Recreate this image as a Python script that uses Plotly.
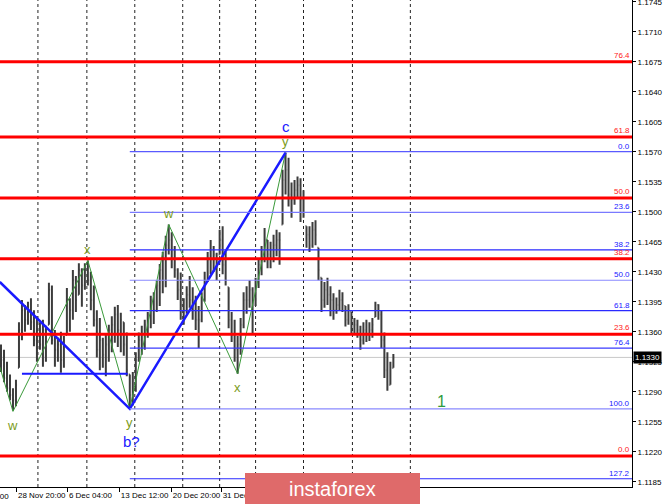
import plotly.graph_objects as go

# ---------------- data (EUR/USD H4) ----------------
high = [1.1345,1.1339,1.1325,1.1310,1.1294,1.1304,1.1371,1.1397,1.1391,1.1395,
        1.1399,1.1385,1.1378,1.1371,1.1374,1.1367,1.1417,1.1414,1.1362,1.1353,
        1.1360,1.1355,1.1411,1.1399,1.1432,1.1425,1.1440,1.1434,1.1440,1.1443,
        1.1430,1.1414,1.1385,1.1376,1.1353,1.1356,1.1368,1.1378,1.1389,1.1391,
        1.1382,1.1371,1.1359,1.1310,1.1313,1.1336,1.1359,1.1367,1.1374,1.1383,
        1.1402,1.1406,1.1420,1.1439,1.1453,1.1472,1.1485,1.1476,1.1460,1.1434,
        1.1429,1.1399,1.1413,1.1425,1.1412,1.1402,1.1390,1.1406,1.1430,1.1453,
        1.1467,1.1460,1.1452,1.1479,1.1483,1.1453,1.1412,1.1383,1.1374,1.1355,
        1.1376,1.1406,1.1413,1.1420,1.1412,1.1423,1.1446,1.1460,1.1481,1.1467,
        1.1465,1.1473,1.1479,1.1476,1.1549,1.1569,1.1563,1.1534,1.1537,1.1541,
        1.1539,1.1525,1.1483,1.1483,1.1488,1.1490,1.1458,1.1423,1.1418,1.1423,
        1.1413,1.1405,1.1400,1.1409,1.1406,1.1390,1.1392,1.1383,1.1376,1.1374,
        1.1367,1.1371,1.1374,1.1371,1.1376,1.1395,1.1392,1.1385,1.1359,1.1336,
        1.1325,1.1334]
low = [1.1313,1.1301,1.1290,1.1280,1.1268,1.1273,1.1318,1.1350,1.1360,1.1368,
       1.1362,1.1343,1.1325,1.1339,1.1319,1.1325,1.1368,1.1345,1.1319,1.1325,
       1.1312,1.1318,1.1356,1.1360,1.1374,1.1383,1.1403,1.1389,1.1409,1.1414,
       1.1385,1.1366,1.1330,1.1315,1.1318,1.1308,1.1325,1.1336,1.1347,1.1342,
       1.1336,1.1332,1.1308,1.1270,1.1274,1.1290,1.1325,1.1333,1.1339,1.1353,
       1.1364,1.1369,1.1383,1.1390,1.1405,1.1412,1.1450,1.1434,1.1423,1.1397,
       1.1374,1.1368,1.1381,1.1388,1.1374,1.1362,1.1341,1.1371,1.1395,1.1418,
       1.1427,1.1430,1.1420,1.1450,1.1427,1.1414,1.1364,1.1348,1.1325,1.1311,
       1.1333,1.1364,1.1381,1.1388,1.1356,1.1390,1.1411,1.1426,1.1441,1.1434,
       1.1434,1.1441,1.1448,1.1438,1.1485,1.1520,1.1506,1.1493,1.1508,1.1516,
       1.1488,1.1493,1.1458,1.1453,1.1458,1.1461,1.1420,1.1383,1.1388,1.1391,
       1.1378,1.1374,1.1381,1.1385,1.1383,1.1366,1.1368,1.1357,1.1357,1.1353,
       1.1339,1.1345,1.1348,1.1349,1.1353,1.1377,1.1374,1.1341,1.1306,1.1291,
       1.1298,1.1318]
close = [1.1327,1.1306,1.1294,1.1286,1.1280,1.1298,1.1362,1.1385,1.1374,1.1385,
         1.1371,1.1350,1.1362,1.1345,1.1362,1.1356,1.1409,1.1350,1.1339,1.1345,
         1.1327,1.1350,1.1397,1.1385,1.1420,1.1397,1.1432,1.1414,1.1432,1.1420,
         1.1397,1.1374,1.1339,1.1350,1.1333,1.1345,1.1362,1.1368,1.1380,1.1362,
         1.1374,1.1345,1.1315,1.1286,1.1304,1.1327,1.1350,1.1345,1.1368,1.1380,
         1.1397,1.1385,1.1414,1.1432,1.1444,1.1461,1.1467,1.1455,1.1432,1.1409,
         1.1391,1.1385,1.1403,1.1397,1.1385,1.1374,1.1374,1.1397,1.1420,1.1444,
         1.1444,1.1450,1.1444,1.1467,1.1438,1.1420,1.1374,1.1356,1.1339,1.1345,
         1.1368,1.1397,1.1397,1.1409,1.1397,1.1414,1.1438,1.1450,1.1467,1.1450,
         1.1455,1.1461,1.1467,1.1467,1.1537,1.1549,1.1520,1.1514,1.1525,1.1531,
         1.1514,1.1496,1.1473,1.1461,1.1479,1.1473,1.1432,1.1397,1.1409,1.1403,
         1.1397,1.1385,1.1391,1.1397,1.1391,1.1374,1.1385,1.1368,1.1368,1.1362,
         1.1350,1.1362,1.1356,1.1362,1.1368,1.1391,1.1380,1.1350,1.1315,1.1298,
         1.1318,1.1330]
first_open = 1.1340
current_price = 1.1330

# date tick labels (bar positions) and time grid (bar positions)
date_labels = ["28 Nov 20:00", "6 Dec 04:00", "13 Dec 12:00", "20 Dec 20:00", "31 Dec 04:00"]
date_bars = [5.33, 22.33, 39.67, 57.0, 73.67]
grid_bars = [12.33, 28.67, 44.67, 60.67, 73.0, 85.0, 101.0, 117.33, 136.67]
last_bar_slot = 210.67

# price axis ticks
price_ticks = [1.1185, 1.1220, 1.1255, 1.1290, 1.1325, 1.1360, 1.1395, 1.1430,
               1.1465, 1.1500, 1.1535, 1.1570, 1.1605, 1.1640, 1.1675, 1.1710, 1.1745]

# Fibonacci grids
red_fib_levels = [0.0, 23.6, 38.2, 50.0, 61.8, 76.4]
red_fib_zero = 1.1215
red_fib_hundred = 1.1817
blue_fib_levels = [0.0, 23.6, 38.2, 50.0, 61.8, 76.4, 100.0, 127.2]
blue_fib_zero = 1.1570
blue_fib_hundred = 1.1270
blue_fib_start_bar = 43

# wave markup
green_wave_bars = [-0.4, 4, 29, 43, 56, 79, 95]
green_wave_prices = [1.1319, 1.1267, 1.1443, 1.1270, 1.1485, 1.1311, 1.1569]
green_wave_labels = [None, "w", "x", "y", "w", "x", "y"]
blue_wave_bars = [-0.4, 43, 95]
blue_wave_prices = [1.1418, 1.1270, 1.1569]
blue_level_bars = [7, 42.3]
blue_level_price = 1.1311
wave1_bar, wave1_price = 147, 1.1278

# ---------------- figure ----------------
FONT = "Liberation Sans, Arial"
xb = list(range(len(close)))
opens = []
prev = first_open
for h, l, c in zip(high, low, close):
    opens.append(min(max(prev, l), h))
    prev = c

fig = go.Figure()
fig.add_trace(go.Ohlc(
    x=xb, open=opens, high=high, low=low, close=close,
    increasing=dict(line=dict(color="#3c3c3c", width=2)),
    decreasing=dict(line=dict(color="#3c3c3c", width=2)),
    tickwidth=0.35, hoverinfo="skip", showlegend=False))

# green zigzag
fig.add_trace(go.Scatter(x=green_wave_bars, y=green_wave_prices, mode="lines",
                         line=dict(color="#3a9a3a", width=1), hoverinfo="skip",
                         showlegend=False))
# blue wave
fig.add_trace(go.Scatter(x=blue_wave_bars, y=blue_wave_prices, mode="lines",
                         line=dict(color="#1a1aff", width=2.5), hoverinfo="skip",
                         showlegend=False))
fig.add_trace(go.Scatter(x=blue_level_bars, y=[blue_level_price] * 2, mode="lines",
                         line=dict(color="#1a1aff", width=2), hoverinfo="skip",
                         showlegend=False))

shapes = []
for gb in grid_bars:
    shapes.append(dict(type="line", xref="x", yref="paper", x0=gb, x1=gb, y0=0, y1=1,
                       line=dict(color="#222", width=1, dash="dot"), layer="below"))
# current price line
shapes.append(dict(type="line", xref="paper", yref="y", x0=0, x1=1,
                   y0=current_price, y1=current_price,
                   line=dict(color="#c8c8c8", width=1), layer="below"))

annotations = []
label_font = dict(family=FONT, size=8)

# blue fib
blue_cols = ["#5a5aff", "#7a7aff", "#2a2aff", "#8a8aff", "#2a2aff", "#3a3aff", "#8a8aff", "#2a2aff"]
for lvl, col in zip(blue_fib_levels, blue_cols):
    p = blue_fib_zero - lvl / 100.0 * (blue_fib_zero - blue_fib_hundred)
    shapes.append(dict(type="line", xref="x", yref="y", x0=blue_fib_start_bar, x1=last_bar_slot,
                       y0=p, y1=p, line=dict(color=col, width=1.2), layer="above"))
    annotations.append(dict(xref="paper", yref="y", x=1, y=p, xanchor="right", yanchor="bottom",
                            xshift=0, yshift=-1, text=f"{lvl:.1f}", showarrow=False,
                            font=dict(label_font, color="#2020ff")))
# red fib
for lvl in red_fib_levels:
    p = red_fib_zero + lvl / 100.0 * (red_fib_hundred - red_fib_zero)
    shapes.append(dict(type="line", xref="paper", yref="y", x0=0, x1=1, y0=p, y1=p,
                       line=dict(color="#ff0000", width=3), layer="above"))
    annotations.append(dict(xref="paper", yref="y", x=1, y=p, xanchor="right", yanchor="bottom",
                            xshift=0, yshift=0, text=f"{lvl:.1f}", showarrow=False,
                            font=dict(label_font, color="#ff2020")))

# wave labels
wave_col = "#7c9c1c"
for b, p, t in zip(green_wave_bars, green_wave_prices, green_wave_labels):
    if t is None:
        continue
    is_top = abs(p - high[b]) < abs(p - low[b])
    annotations.append(dict(x=b, y=p, xref="x", yref="y", text=t, showarrow=False,
                            yshift=(11 if is_top else -14), xshift=0,
                            font=dict(family=FONT, size=13, color=wave_col)))
annotations.append(dict(x=43, y=green_wave_prices[3], xref="x", yref="y", text="b?",
                        showarrow=False, yshift=-33, xshift=2,
                        font=dict(family=FONT, size=15, color="#2020ff")))
annotations.append(dict(x=95, y=green_wave_prices[6], xref="x", yref="y", text="c",
                        showarrow=False, yshift=26, xshift=0,
                        font=dict(family=FONT, size=15, color="#2020ff")))
annotations.append(dict(x=wave1_bar, y=wave1_price, xref="x", yref="y", text="1",
                        showarrow=False,
                        font=dict(family=FONT, size=16, color="#2e9a3e")))

# current price tag
annotations.append(dict(xref="paper", yref="y", x=1, y=current_price, xanchor="left",
                        xshift=1, text=f"{current_price:.4f}", showarrow=False,
                        bgcolor="#000000", borderpad=1,
                        font=dict(family=FONT, size=8, color="#ffffff")))

# cut-off first date label
annotations.append(dict(xref="paper", yref="paper", x=11 / 632, y=0, xanchor="right",
                        yanchor="top", yshift=-3, text="21 Nov 12:00", showarrow=False,
                        font=dict(family=FONT, size=8, color="#000")))

# watermark
shapes.append(dict(type="rect", xref="paper", yref="paper", x0=245 / 632, x1=420 / 632,
                   y0=-31 / 487, y1=14 / 487, fillcolor="#df6a6a", line=dict(width=0),
                   layer="above"))
annotations.append(dict(xref="paper", yref="paper", x=332 / 632, y=-2 / 487,
                        text="instaforex", showarrow=False, yanchor="middle",
                        font=dict(family=FONT, size=20, color="#ffffff")))

fig.update_layout(
    width=665, height=504,
    margin=dict(l=0, r=33, t=0, b=17),
    paper_bgcolor="white", plot_bgcolor="white",
    shapes=shapes, annotations=annotations,
    showlegend=False,
    xaxis=dict(range=[-1 / 3, last_bar_slot], showgrid=False, zeroline=False,
               rangeslider=dict(visible=False), tickmode="array", tickvals=date_bars,
               ticktext=date_labels, ticks="outside", ticklen=4, tickcolor="#000",
               tickangle=0, ticklabelposition="outside right", showline=True,
               linecolor="#000", linewidth=1, automargin=False,
               tickfont=dict(family=FONT, size=8, color="#000"), fixedrange=True),
    yaxis=dict(range=[1.11788, 1.1747], side="right", showgrid=False, zeroline=False,
               tickmode="array", tickvals=price_ticks, tickformat=".4f",
               ticks="outside", ticklen=3, tickcolor="#000", showline=True,
               linecolor="#000", linewidth=1, automargin=False, ticklabeloverflow="allow",
               tickfont=dict(family=FONT, size=8, color="#000"), fixedrange=True),
)

fig.write_html("out.html", config={"displayModeBar": False},
               post_script="document.body.style.margin='0';document.body.style.padding='0';")
